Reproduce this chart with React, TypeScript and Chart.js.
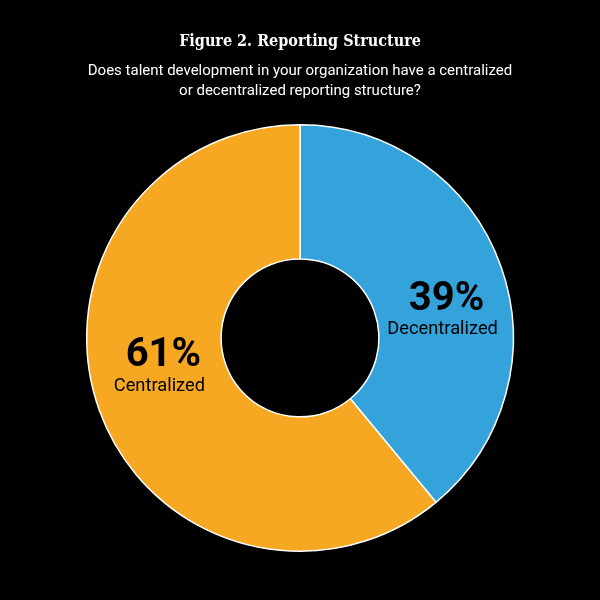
import React, { useEffect, useRef } from "react";
import { Chart, registerables } from "chart.js";

Chart.register(...registerables);

const categories = ["Decentralized", "Centralized"];
const values = [39, 61];
const colors = ["#34A2DB", "#F7A823"];
const titleText = "Figure 2. Reporting Structure";
const subtitleLines = [
  "Does talent development in your organization have a centralized",
  "or decentralized reporting structure?",
];

const labelPlugin = {
  id: "sliceLabels",
  afterDatasetsDraw(chart: any) {
    const ctx = chart.ctx;
    const meta = chart.getDatasetMeta(0);
    meta.data.forEach((arc: any, i: number) => {
      const p = arc.getCenterPoint();
      const cx = arc.x;
      const cy = arc.y;
      const x = cx + (p.x - cx) * 1.03;
      const y = cy + (p.y - cy) * 0.57;
      ctx.save();
      ctx.fillStyle = "#000000";
      ctx.textAlign = "center";
      ctx.textBaseline = "middle";
      ctx.font = "bold 40px Roboto";
      ctx.fillText(values[i] + "%", x + 5, y - 10);
      ctx.font = "18.3px Roboto";
      ctx.fillText(categories[i], x + 1, y + 20);
      ctx.restore();
    });
  },
};

export default function App() {
  const ref = useRef<HTMLCanvasElement>(null);
  useEffect(() => {
    if (!ref.current) return;
    const chart = new Chart(ref.current, {
      type: "doughnut",
      data: {
        labels: categories,
        datasets: [
          {
            data: values,
            backgroundColor: colors,
            borderColor: "#FFFFFF",
            borderWidth: 1.5,
          },
        ],
      },
      options: {
        responsive: false,
        animation: false,
        cutout: "37%",
        layout: { padding: { bottom: 48 } },
        plugins: {
          legend: { display: false },
          tooltip: { enabled: false },
          title: {
            display: true,
            text: titleText,
            color: "#FFFFFF",
            font: { family: "'DejaVu Serif Condensed', 'DejaVu Serif', serif", size: 16, weight: "bold", lineHeight: 1.2 },
            padding: { top: 32.4, bottom: 9.4 },
          },
          subtitle: {
            display: true,
            text: subtitleLines,
            color: "#FFFFFF",
            font: { family: "Roboto", size: 15, weight: "normal", lineHeight: 1.33 },
            padding: { top: 0, bottom: 23 },
          },
        },
      },
      plugins: [labelPlugin],
    });
    return () => chart.destroy();
  }, []);
  return (
    <div style={{ position: "fixed", left: 0, top: 0, width: 600, height: 600, background: "#000000" }}>
      <canvas ref={ref} width={600} height={600} style={{ display: "block" }} />
    </div>
  );
}
